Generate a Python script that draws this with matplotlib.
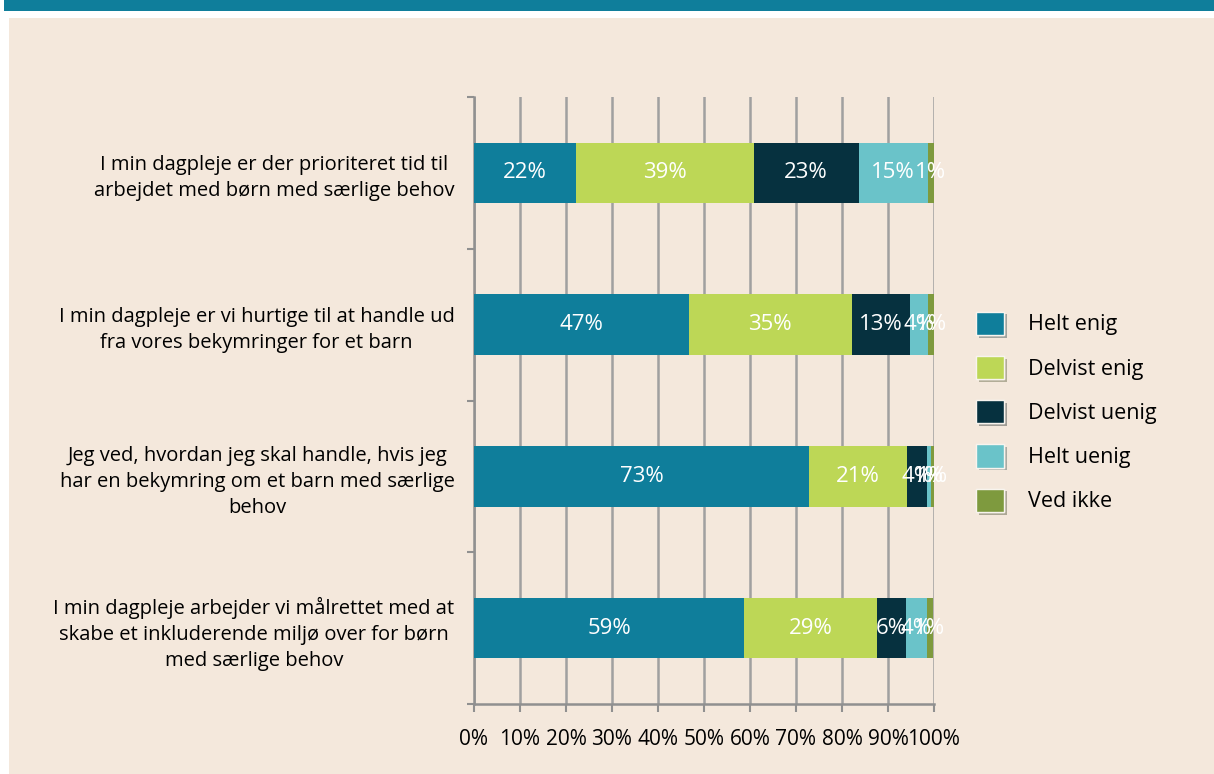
import numpy as np
import matplotlib
matplotlib.use("Agg")
import matplotlib.pyplot as plt
import matplotlib.patheffects as pe
from matplotlib.patches import Rectangle
from matplotlib.ticker import FixedLocator, PercentFormatter

plt.rcParams['font.family'] = ['Open Sans', 'DejaVu Sans']

# survey statements (top to bottom)
statements = [
    "I min dagpleje er der prioriteret tid til\narbejdet med børn med særlige behov",
    "I min dagpleje er vi hurtige til at handle ud\nfra vores bekymringer for et barn",
    "Jeg ved, hvordan jeg skal handle, hvis jeg\nhar en bekymring om et barn med særlige\nbehov",
    "I min dagpleje arbejder vi målrettet med at\nskabe et inkluderende miljø over for børn\nmed særlige behov",
]
answers = ["Helt enig", "Delvist enig", "Delvist uenig", "Helt uenig", "Ved ikke"]
colors = ["#0f7e9b", "#bdd756", "#06313f", "#6ac3c9", "#7e9a3e"]

# shares in percent, one list per answer
helt_enig = [22.2, 46.7, 72.8, 58.7]
delvist_enig = [38.6, 35.4, 21.4, 28.9]
delvist_uenig = [22.8, 12.6, 4.3, 6.4]
helt_uenig = [15.0, 4.1, 0.8, 4.4]
ved_ikke = [1.4, 1.2, 0.7, 1.4]
series = [helt_enig, delvist_enig, delvist_uenig, helt_uenig, ved_ikke]

fig = plt.figure(figsize=(12.14, 7.74), dpi=100, facecolor="white")
# beige panel and top banner
fig.patches.append(Rectangle((9/1214, 0), 1, 1 - 18/774, transform=fig.transFigure,
                             facecolor="#f4e8dc", edgecolor="none", zorder=-10))
fig.patches.append(Rectangle((4/1214, 1 - 11/774), 1, 11/774, transform=fig.transFigure,
                             facecolor="#0f7e9b", edgecolor="none", zorder=-10))

ax = fig.add_axes([474/1214, 1 - 704/774, 460/1214, 607/774])
ax.set_facecolor("none")

y = np.arange(len(statements))
left = np.zeros(len(statements))
for vals, col, name in zip(series, colors, answers):
    vals = np.array(vals)
    ax.barh(y, vals, left=left, height=0.4, color=col, label=name, zorder=3)
    for yi, l, v in zip(y, left, vals):
        ax.text(l + v / 2, yi, "%.0f%%" % v, ha="center", va="center",
                color="white", fontsize=16, zorder=4)
    left += vals

ax.set_xlim(0, 100)
ax.set_ylim(3.5, -0.5)
ax.xaxis.set_major_locator(FixedLocator(np.arange(0, 101, 10)))
ax.xaxis.set_major_formatter(PercentFormatter(decimals=0))
ax.grid(axis="x", color="#a0a0a0", linewidth=1.8, zorder=0)
ax.set_axisbelow(True)

ax.set_yticks(y)
ax.set_yticklabels(statements, fontsize=14.5, linespacing=1.4)
for t in ax.get_yticklabels():
    t.set_multialignment("center")
ax.yaxis.set_minor_locator(FixedLocator(np.arange(-0.5, 4, 1)))
ax.tick_params(axis="y", which="major", length=0, pad=14)
ax.tick_params(axis="y", which="minor", length=5, color="#909090", width=1.5)
ax.tick_params(axis="x", length=6, color="#909090", width=1.5, labelsize=15, pad=12)

for s in ["top", "right"]:
    ax.spines[s].set_visible(False)
for s in ["left", "bottom"]:
    ax.spines[s].set_color("#909090")
    ax.spines[s].set_linewidth(1.8)

leg = fig.legend(loc="center left", bbox_to_anchor=(957/1214, 1 - 412/774),
                 frameon=False, fontsize=15.5, handlelength=1.28, handleheight=1.28,
                 labelspacing=0.95, handletextpad=1.1)
for h in leg.legend_handles:
    h.set_edgecolor("#f8f4ee")
    h.set_linewidth(1)
    h.set_path_effects([pe.withSimplePatchShadow(offset=(2, -2), alpha=0.35), pe.Normal()])

fig.savefig("out.png", dpi=100, facecolor="white")
